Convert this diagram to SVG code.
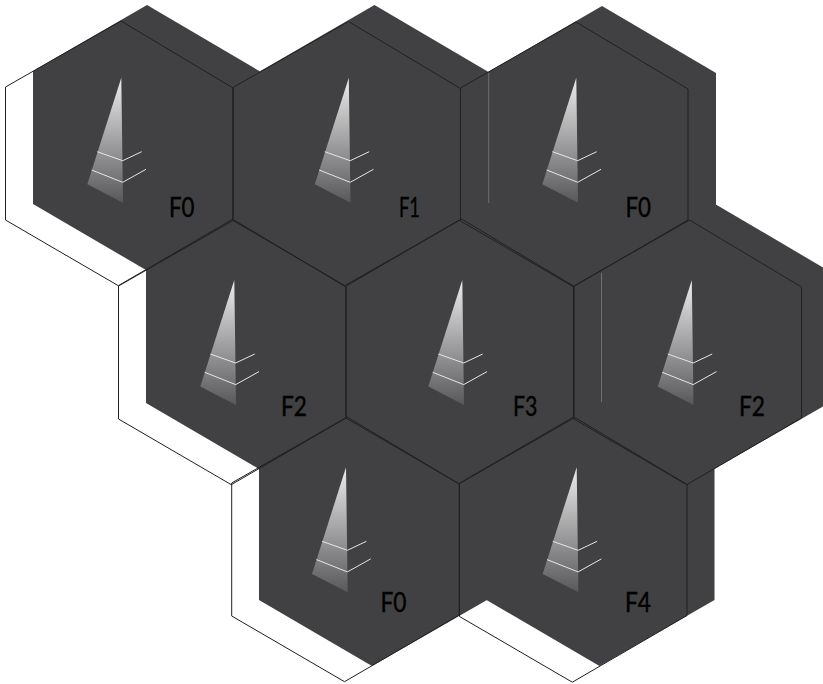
<svg xmlns="http://www.w3.org/2000/svg" xmlns:xlink="http://www.w3.org/1999/xlink" width="823" height="684" viewBox="0 0 823 684">
  <style>
    .fill { fill: #414042; stroke: none; }
    .outline { fill: none; stroke: #231f20; stroke-width: 1; }
    .tick { fill: none; stroke: #e6e7e8; stroke-width: 1; }
    .seam { fill: none; stroke: #6d6e71; stroke-width: 1; }
    .label { font-family: "Lato", "Liberation Sans", sans-serif; font-size: 27px; fill: #000; stroke: #000; stroke-width: 0.4; }
  </style>
  <defs>
    <linearGradient id="fade" x1="0" y1="0" x2="0" y2="1">
      <stop offset="0" stop-color="#ececed"/>
      <stop offset="1" stop-color="#58585a"/>
    </linearGradient>
    <polygon id="hex-fill" class="fill" points="147,5 261,72 261,204 146,270 33,204 33,71"/>
    <polygon id="hex-outline" class="outline" points="121,21 233,88 233,219 118.3,285.7 5.5,220 5.5,87"/>
    <g id="spike">
      <polygon points="121.3,77.7 123,202.7 87.3,184.3" fill="url(#fade)"/>
      <polyline class="tick" points="97.3,151.7 122.7,160.7 141.7,151.7"/>
      <polyline class="tick" points="91.7,170 122.7,182.3 146,169.3"/>
    </g>
  </defs>
  <g id="backing">
    <rect class="fill" x="160" y="150" width="552" height="180"/>
    <rect class="fill" x="262" y="340" width="450" height="200"/>
    <use xlink:href="#hex-fill" href="#hex-fill"/>
    <use href="#hex-fill" transform="translate(227.5,0)"/>
    <use href="#hex-fill" transform="translate(455,1)"/>
    <use href="#hex-fill" transform="translate(113,199)"/>
    <use href="#hex-fill" transform="translate(340.5,199)"/>
    <use href="#hex-fill" transform="translate(568,199)"/>
    <use href="#hex-fill" transform="translate(226,396)"/>
    <use href="#hex-fill" transform="translate(453.5,396)"/>
  </g>
  <line class="seam" x1="488.7" y1="73" x2="488.7" y2="203"/>
  <line class="seam" x1="601.5" y1="273" x2="601.5" y2="402"/>
  <g id="cell-1">
    <use href="#hex-outline"/>
    <use href="#spike"/>
    <text class="label" x="169" y="217" textLength="25.5" lengthAdjust="spacingAndGlyphs">F0</text>
  </g>
  <g id="cell-2">
    <use href="#hex-outline" transform="translate(227.5,0.5)"/>
    <use href="#spike" transform="translate(227.5,0)"/>
    <text class="label" x="399" y="217" textLength="21" lengthAdjust="spacingAndGlyphs">F1</text>
  </g>
  <g id="cell-3">
    <use href="#hex-outline" transform="translate(455,1)"/>
    <use href="#spike" transform="translate(455,0)"/>
    <text class="label" x="625.5" y="217" textLength="25.5" lengthAdjust="spacingAndGlyphs">F0</text>
  </g>
  <g id="cell-4">
    <use href="#hex-outline" transform="translate(113,199)"/>
    <use href="#spike" transform="translate(113,202.3)"/>
    <text class="label" x="281" y="416" textLength="26" lengthAdjust="spacingAndGlyphs">F2</text>
  </g>
  <g id="cell-5">
    <use href="#hex-outline" transform="translate(340.5,198)"/>
    <use href="#spike" transform="translate(341,202.3)"/>
    <text class="label" x="513" y="416" textLength="24.5" lengthAdjust="spacingAndGlyphs">F3</text>
  </g>
  <g id="cell-6">
    <use href="#hex-outline" transform="translate(568.5,199)"/>
    <use href="#spike" transform="translate(570.5,202.3)"/>
    <text class="label" x="739" y="416" textLength="26" lengthAdjust="spacingAndGlyphs">F2</text>
  </g>
  <g id="cell-7">
    <use href="#hex-outline" transform="translate(226.2,396)"/>
    <use href="#spike" transform="translate(224.7,389.6)"/>
    <text class="label" x="380.5" y="612" textLength="26" lengthAdjust="spacingAndGlyphs">F0</text>
  </g>
  <g id="cell-8">
    <use href="#hex-outline" transform="translate(454,396.5)"/>
    <use href="#spike" transform="translate(455.4,389.6)"/>
    <text class="label" x="625" y="612" textLength="26" lengthAdjust="spacingAndGlyphs">F4</text>
  </g>
</svg>
